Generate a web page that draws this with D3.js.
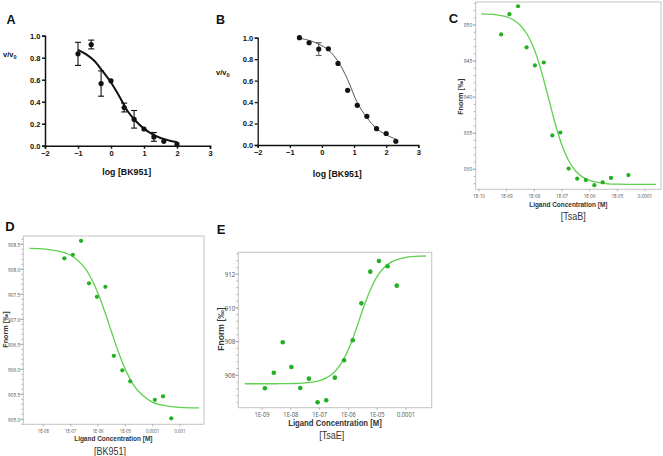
<!DOCTYPE html>
<html><head><meta charset="utf-8">
<script src="https://cdn.jsdelivr.net/npm/d3@7"></script>
<style>body{margin:0;background:#fff}svg{display:block}</style>
</head><body><svg id="chart" width="663" height="456"></svg>
<script>
// ---------------- DATA ----------------
// Panel A (log [BK951] vs v/v0), mean ± error
const aX = [-1, -0.6, -0.3, 0, 0.4, 0.7, 1.0, 1.3, 1.6, 2.0];
const aY = [0.835, 0.92, 0.565, 0.59, 0.347, 0.24, 0.152, 0.08, 0.04, 0.015];
const aErr = [0.105, 0.04, 0.115, 0.01, 0.04, 0.08, 0.01, 0.04, 0.008, 0.008];
const aFitX = [-1, -0.75, -0.5, -0.25, 0, 0.25, 0.5, 0.75, 1, 1.25, 1.5, 1.75, 2];
const aFitY = [0.872, 0.83, 0.77, 0.675, 0.575, 0.45, 0.315, 0.225, 0.155, 0.105, 0.07, 0.048, 0.032];

// Panel B
const bX = [-0.7, -0.4, -0.1, 0.2, 0.5, 0.8, 1.1, 1.4, 1.7, 2.0, 2.3];
const bY = [1.0, 0.953, 0.894, 0.897, 0.76, 0.51, 0.37, 0.267, 0.152, 0.107, 0.035];
const bErr = [0, 0, 0.06, 0, 0, 0, 0, 0, 0, 0, 0];
const bFitX = [-0.7, -0.4, -0.1, 0.2, 0.5, 0.8, 1.1, 1.4, 1.7, 2.0, 2.3];
const bFitY = [0.995, 0.975, 0.94, 0.885, 0.78, 0.61, 0.395, 0.255, 0.155, 0.095, 0.055];

const abXTicks = [-2, -1, 0, 1, 2, 3];
const abYTicks = [0, 0.2, 0.4, 0.6, 0.8, 1.0];

// Panel C [TsaB]: log10 ligand concentration (M) vs Fnorm
const cLogConc = [-9.20, -8.90, -8.59, -8.28, -7.98, -7.66, -7.35, -7.06, -6.76, -6.45, -6.14, -5.83, -5.53, -5.23, -4.60];
const cFnorm = [948.7, 951.5, 952.6, 946.9, 944.4, 944.8, 934.7, 935.1, 930.1, 928.7, 928.5, 927.8, 928.2, 928.8, 929.2];
const cFitX = [-9.92, -9.5, -9, -8.75, -8.5, -8.25, -8, -7.75, -7.5, -7.25, -7, -6.75, -6.5, -6.25, -6, -5.5, -5, -4.5, -3.6];
const cFitY = [951.55, 951.46, 951.11, 950.69, 949.94, 948.65, 946.59, 943.65, 940.05, 936.39, 933.32, 931.12, 929.73, 928.91, 928.45, 928.06, 927.94, 927.91, 927.9];
const cXTickVals = [-10, -9, -8, -7, -6, -5, -4];
const cXTickLabels = ["1E-10", "1E-09", "1E-08", "1E-07", "1E-06", "1E-05", "0.0001"];
const cYTicks = [930, 935, 940, 945, 950];

// Panel D [BK951]
const dLogConc = [-7.23, -6.92, -6.62, -6.33, -6.04, -5.73, -5.42, -5.11, -4.82, -3.92, -3.62, -3.32];
const dFnorm = [908.22, 908.29, 908.57, 907.72, 907.45, 907.65, 906.27, 905.98, 905.76, 905.39, 905.46, 905.02];
const dFitX = [-8.5, -8, -7.5, -7, -6.5, -6.25, -6, -5.75, -5.5, -5.25, -5, -4.75, -4.5, -4, -3.5, -3, -2.3];
const dFitY = [908.42, 908.41, 908.37, 908.28, 908.04, 907.82, 907.52, 907.15, 906.74, 906.34, 906.0, 905.73, 905.55, 905.34, 905.27, 905.24, 905.23];
const dXTickVals = [-8, -7, -6, -5, -4, -3];
const dXTickLabels = ["1E-08", "1E-07", "1E-06", "1E-05", "0.0001", "0.001"];
const dYTicks = [905.0, 905.5, 906.0, 906.5, 907.0, 907.5, 908.0, 908.5];

// Panel E [TsaE]
const eLogConc = [-8.90, -8.59, -8.28, -7.98, -7.67, -7.37, -7.07, -6.77, -6.47, -6.15, -5.85, -5.55, -5.24, -4.94, -4.64, -4.32];
const eFnorm = [905.23, 906.15, 907.96, 906.49, 905.25, 905.80, 904.40, 904.52, 905.86, 906.89, 908.08, 910.27, 912.15, 912.78, 912.47, 911.32];
const eFitX = [-9.6, -9, -8.5, -8, -7.5, -7, -6.75, -6.5, -6.25, -6, -5.75, -5.5, -5.25, -5, -4.75, -4.5, -4.25, -4, -3.5, -3.31];
const eFitY = [905.5, 905.5, 905.5, 905.51, 905.55, 905.69, 905.86, 906.17, 906.71, 907.53, 908.65, 909.9, 911.02, 911.87, 912.41, 912.73, 912.9, 913.0, 913.07, 913.08];
const eXTickVals = [-9, -8, -7, -6, -5, -4];
const eXTickLabels = ["1E-09", "1E-08", "1E-07", "1E-06", "1E-05", "0.0001"];
const eYTicks = [906, 908, 910, 912];

// ---------------- DRAWING ----------------
const svg = d3.select("#chart");
const ARIAL = "'Liberation Sans', Arial, sans-serif";

function text(g, x, y, s, o) {
  o = o || {};
  const t = g.append("text")
    .attr("transform", `translate(${x},${y})` + (o.rot ? ` rotate(${o.rot})` : "") + (o.sx ? ` scale(${o.sx},1)` : ""))
    .attr("text-anchor", o.anchor || "middle")
    .attr("dominant-baseline", "central")
    .attr("font-family", o.font || ARIAL)
    .attr("font-size", o.size || 8)
    .attr("font-weight", o.bold ? "bold" : "normal")
    .attr("fill", o.fill || "#111")
    .text(s);
  return t;
}

// --------- GraphPad style panels (A, B) ---------
function prism(cfg) {
  const g = svg.append("g");
  const x = d3.scaleLinear().domain([-2, 3]).range(cfg.xr);
  const y = d3.scaleLinear().domain([0, 1]).range(cfg.yr);
  const col = "#111";
  const yAx = g.append("g").attr("transform", `translate(${cfg.xr[0]},0)`)
    .call(d3.axisLeft(y).tickValues(abYTicks).tickSize(3).tickFormat(d3.format(".1f")));
  const xAx = g.append("g").attr("transform", `translate(0,${cfg.yr[0]})`)
    .call(d3.axisBottom(x).tickValues(abXTicks).tickSize(3).tickFormat(d3.format("d")));
  [yAx, xAx].forEach(a => {
    a.select(".domain").attr("stroke", col).attr("stroke-width", cfg.axW);
    a.selectAll(".tick line").attr("stroke", col).attr("stroke-width", cfg.axW);
    a.selectAll("text").attr("font-family", ARIAL).attr("font-weight", "bold")
      .attr("font-size", 7.5).attr("fill", col);
  });
  yAx.selectAll("text").attr("x", -4.5);
  xAx.selectAll("text").attr("y", 5);
  const fit = cfg.fitX.map((v, i) => [v, cfg.fitY[i]]);
  g.append("path").datum(fit)
    .attr("d", d3.line().x(d => x(d[0])).y(d => y(d[1])).curve(d3.curveCatmullRom))
    .attr("fill", "none").attr("stroke", cfg.fitCol).attr("stroke-width", cfg.fitW);
  cfg.xs.forEach((v, i) => {
    const e = cfg.err[i];
    if (e < 0.02) return;
    const cx = x(v), y1 = y(cfg.ys[i] + e), y2 = y(cfg.ys[i] - e);
    g.append("line").attr("x1", cx).attr("x2", cx).attr("y1", y1).attr("y2", y2)
      .attr("stroke", cfg.errCol).attr("stroke-width", 1.1);
    [y1, y2].forEach(yy => g.append("line").attr("x1", cx - 3).attr("x2", cx + 3)
      .attr("y1", yy).attr("y2", yy).attr("stroke", cfg.errCol).attr("stroke-width", 1.1));
  });
  g.selectAll("circle.pt").data(cfg.xs.map((v, i) => [v, cfg.ys[i]])).join("circle")
    .attr("cx", d => x(d[0])).attr("cy", d => y(d[1])).attr("r", 2.6).attr("fill", col);
  text(g, cfg.letter[0], cfg.letter[1], cfg.letterTxt, { size: 12.5, bold: true });
  const vt = g.append("text").attr("x", cfg.vv[0]).attr("y", cfg.vv[1])
    .attr("font-family", ARIAL).attr("font-size", 7.5).attr("font-weight", "bold").attr("fill", col);
  vt.append("tspan").text("v/v");
  vt.append("tspan").attr("dy", 2).attr("font-size", 5.5).text("0");
  text(g, cfg.title[0], cfg.title[1], "log [BK951]", { size: 8.8, bold: true });
}

prism({ xr: [45, 210], yr: [145.7, 35.7], xs: aX, ys: aY, err: aErr, fitX: aFitX, fitY: aFitY,
  fitCol: "#111", fitW: 2, errCol: "#111", axW: 1.5,
  letter: [11, 20], letterTxt: "A", vv: [3, 57], title: [126.7, 171.7] });
prism({ xr: [257.7, 418.3], yr: [145, 37.7], xs: bX, ys: bY, err: bErr, fitX: bFitX, fitY: bFitY,
  fitCol: "#555", fitW: 1, errCol: "#666", axW: 1.3,
  letter: [220.5, 20], letterTxt: "B", vv: [216, 75], title: [337.3, 174.3] });

// --------- MST style panels (C, D, E) ---------
function mst(cfg) {
  const g = svg.append("g");
  const x = d3.scaleLinear().domain(cfg.xd).range(cfg.xr);
  const y = d3.scaleLinear().domain(cfg.yd).range(cfg.yr);
  const [fl, fr, ft, fb] = cfg.frame;
  const gray = "#c4c4c4", lab = "#505050";
  g.append("rect").attr("x", fl).attr("y", ft).attr("width", fr - fl).attr("height", fb - ft)
    .attr("fill", "none").attr("stroke", gray).attr("stroke-width", 1);
  const [ylo, yhi] = [y.invert(fb), y.invert(ft)];
  const minors = d3.range(Math.ceil(ylo / cfg.minor) * cfg.minor, yhi, cfg.minor);
  g.selectAll("line.mn").data(minors).join("line")
    .attr("x1", fl - 2).attr("x2", fl).attr("y1", d => y(d)).attr("y2", d => y(d))
    .attr("stroke", "#aaa").attr("stroke-width", 0.8);
  g.selectAll("line.mj").data(cfg.yTicks).join("line")
    .attr("x1", fl - 3).attr("x2", fl).attr("y1", d => y(d)).attr("y2", d => y(d))
    .attr("stroke", "#999").attr("stroke-width", 0.8);
  cfg.yTicks.forEach(v => text(g, fl - cfg.yLabGap, y(v), cfg.yFmt(v),
    { anchor: "end", size: cfg.tickSize, sx: cfg.tickSx, fill: lab, font: "'Open Sans', sans-serif" }));
  g.selectAll("line.xt").data(cfg.xTickVals).join("line")
    .attr("x1", d => x(d)).attr("x2", d => x(d)).attr("y1", fb).attr("y2", fb + 2)
    .attr("stroke", "#999").attr("stroke-width", 0.8);
  cfg.xTickVals.forEach((v, i) => text(g, x(v), cfg.xLabY, cfg.xTickLabels[i],
    { size: cfg.xTickSize || cfg.tickSize, sx: cfg.tickSx, fill: lab, font: "'Open Sans', sans-serif" }));
  const fit = cfg.fitX.map((v, i) => [v, cfg.fitY[i]]);
  g.append("path").datum(fit)
    .attr("d", d3.line().x(d => x(d[0])).y(d => y(d[1])).curve(d3.curveCatmullRom))
    .attr("fill", "none").attr("stroke", "#5fcf4f").attr("stroke-width", 1.3);
  g.selectAll("circle.pt").data(cfg.xs.map((v, i) => [v, cfg.ys[i]])).join("circle")
    .attr("cx", d => x(d[0])).attr("cy", d => y(d[1])).attr("r", cfg.r).attr("fill", "#22b022");
  text(g, cfg.xTitle[0], cfg.xTitle[1], "Ligand Concentration [M]",
    { size: cfg.titleSize, bold: true, sx: 0.9, fill: "#333" });
  text(g, cfg.yTitle[0], cfg.yTitle[1], "Fnorm [‰]",
    { size: cfg.titleSize, bold: true, rot: -90, fill: "#333" });
  text(g, cfg.sub[0], cfg.sub[1], cfg.subTxt, { size: 11, sx: 0.82, fill: "#333" });
  text(g, cfg.letter[0], cfg.letter[1], cfg.letterTxt, { size: 13, bold: true });
}

mst({ xd: [-10, -4], xr: [479, 645], yd: [930, 950], yr: [169.3, 25], frame: [475.7, 661, 2, 189.3],
  xs: cLogConc, ys: cFnorm, fitX: cFitX, fitY: cFitY, xTickVals: cXTickVals, xTickLabels: cXTickLabels,
  yTicks: cYTicks, yFmt: d3.format("d"), minor: 1, tickSize: 6, xTickSize: 5.6, tickSx: 0.82, yLabGap: 3.5, xLabY: 196.2,
  r: 2.1, titleSize: 7.2, xTitle: [568.3, 204], yTitle: [460, 96.7], sub: [573.3, 215.9], subTxt: "[TsaB]",
  letter: [453.5, 18.5], letterTxt: "C" });

mst({ xd: [-8, -3], xr: [43.3, 180], yd: [905, 908.5], yr: [419.3, 244.3], frame: [23.3, 204, 236, 424.3],
  xs: dLogConc, ys: dFnorm, fitX: dFitX, fitY: dFitY, xTickVals: dXTickVals, xTickLabels: dXTickLabels,
  yTicks: dYTicks, yFmt: d3.format(".1f"), minor: 0.1, tickSize: 6, xTickSize: 5.4, tickSx: 0.8, yLabGap: 3, xLabY: 430.6,
  r: 2.1, titleSize: 7.2, xTitle: [113.3, 438.6], yTitle: [5.5, 329.5], sub: [110, 451], subTxt: "[BK951]",
  letter: [10, 226.5], letterTxt: "D" });

mst({ xd: [-9, -4], xr: [262, 406], yd: [906, 912], yr: [375.3, 274.2], frame: [238.3, 431.7, 252.3, 407.7],
  xs: eLogConc, ys: eFnorm, fitX: eFitX, fitY: eFitY, xTickVals: eXTickVals, xTickLabels: eXTickLabels,
  yTicks: eYTicks, yFmt: d3.format("d"), minor: 0.4, tickSize: 7.5, xTickSize: 7, tickSx: 0.82, yLabGap: 3, xLabY: 414,
  r: 2.3, titleSize: 8.6, xTitle: [335, 423.2], yTitle: [220.5, 329], sub: [331.7, 435.5], subTxt: "[TsaE]",
  letter: [221, 229], letterTxt: "E" });
</script>
</body></html>
